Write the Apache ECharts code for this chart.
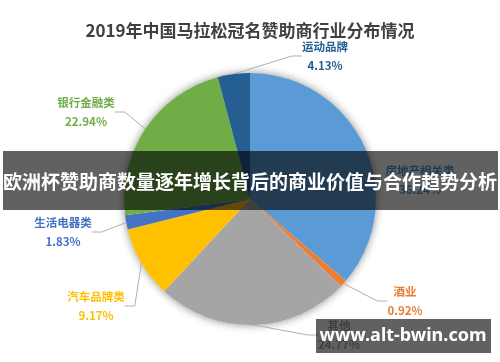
<!DOCTYPE html>
<html>
<head>
<meta charset="utf-8">
<script src="https://cdn.jsdelivr.net/npm/echarts@6/dist/echarts.min.js"></script>
<style>html,body{margin:0;padding:0;background:#fff;}#c{width:500px;height:362px;}</style>
</head>
<body>
<div id="c"></div>
<script>
var categories = ['房地产相关类', '酒业', '其他', '汽车品牌类', '生活电器类', '银行金融类', '运动品牌'];
var shares = [36.24, 0.92, 24.77, 9.17, 1.83, 22.94, 4.13];
var colors = ['#5B9BD5', '#ED7D31', '#A5A5A5', '#FFC000', '#4472C4', '#70AD47', '#255E91'];
var titleText = '2019年中国马拉松冠名赞助商行业分布情况';
var bannerText = '欧洲杯赞助商数量逐年增长背后的商业价值与合作趋势分析';
var watermarkText = 'www.alt-bwin.com';
// label anchor layout (centre of the two-line label block)
var labelAnchors = [[420, 180], [405, 301], [339, 335], [96, 306], [63, 232], [86, 112], [325, 56]];

var FONT = '"Noto Sans CJK SC", "Noto Sans", sans-serif';
var chart = echarts.init(document.getElementById('c'), null, {renderer: 'canvas'});

var data = categories.map(function (c, i) {
  return {
    name: c,
    value: shares[i],
    itemStyle: {color: colors[i]},
    label: {
      rich: {
        n: {color: colors[i], fontSize: 11.5, fontWeight: 'bold', fontFamily: FONT, lineHeight: 19},
        p: {color: colors[i], fontSize: 11.5, fontWeight: 'bold', fontFamily: FONT, lineHeight: 19}
      }
    }
  };
});

chart.setOption({
  animation: false,
  backgroundColor: '#ffffff',
  title: {
    text: titleText,
    left: 'center',
    top: 17,
    textStyle: {fontSize: 17, fontWeight: 'bold', color: '#404040', fontFamily: FONT}
  },
  series: [
    {
      type: 'pie',
      silent: true,
      z: 1,
      center: [250, 199],
      radius: 126,
      label: {show: false},
      labelLine: {show: false},
      itemStyle: {color: '#ffffff', shadowBlur: 8, shadowColor: 'rgba(0,0,0,0.45)'},
      data: [{value: 1, name: ''}]
    },
    {
      type: 'pie',
      z: 2,
      silent: true,
      center: [250, 199],
      radius: 126,
      startAngle: 90,
      clockwise: true,
      emphasis: {disabled: true},
      label: {
        show: true,
        position: 'outside',
        formatter: function (p) { return '{n|' + p.name + '}\n{p|' + p.value.toFixed(2) + '%}'; }
      },
      labelLine: {show: true, length: 10, length2: 10, lineStyle: {color: '#B0B0B0', width: 1}},
      labelLayout: function (params) {
        var a = labelAnchors[params.dataIndex];
        return {x: a[0], y: a[1], align: 'center', verticalAlign: 'middle'};
      },
      data: data
    }
  ],
  graphic: [
    {
      type: 'rect', z: 100,
      shape: {x: 3, y: 151, width: 495, height: 59},
      style: {fill: 'rgba(0,0,0,0.62)'}
    },
    {
      type: 'text', z: 101,
      x: 250, y: 182,
      style: {text: bannerText, fill: '#ffffff', font: 'bold 19px ' + FONT, textAlign: 'center', textVerticalAlign: 'middle'}
    },
    {
      type: 'rect', z: 100,
      shape: {x: 316, y: 319, width: 175, height: 34},
      style: {fill: 'rgba(0,0,0,0.62)'}
    },
    {
      type: 'text', z: 101,
      x: 403, y: 336,
      style: {text: watermarkText, fill: '#ffffff', font: 'bold 18px "Noto Sans", sans-serif', textAlign: 'center', textVerticalAlign: 'middle'}
    }
  ]
});
</script>
</body>
</html>
